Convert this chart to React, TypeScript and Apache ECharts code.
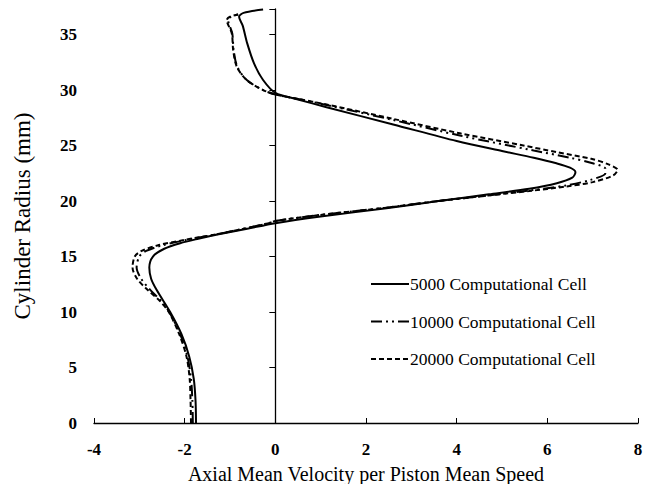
import React, { useEffect, useRef } from "react";
import * as echarts from "echarts";

// Axial velocity profiles: each point is [velocity ratio, radius (mm)]
const cells5000: [number, number][] = [
  [-1.75, 0], [-1.76, 2], [-1.8, 4], [-1.9, 6], [-2.07, 8], [-2.32, 10],
  [-2.62, 12], [-2.74, 13], [-2.78, 14], [-2.7, 15], [-2.45, 15.7], [-2.1, 16.2],
  [-1.7, 16.6], [-1.25, 17], [-0.62, 17.5], [0, 18], [1.0, 18.6], [2.45, 19.35],
  [3.6, 20], [4.71, 20.6], [5.6, 21.1], [6.21, 21.6], [6.55, 22.1], [6.62, 22.6],
  [6.5, 23.0], [6.2, 23.4], [5.7, 23.9], [5.0, 24.5], [4.0, 25.4], [2.6, 26.9],
  [1.13, 28.45], [0.5, 29.15], [0, 29.75], [-0.27, 30.9], [-0.47, 32.4],
  [-0.62, 34.2], [-0.72, 35.8], [-0.8, 36.6], [-0.7, 36.95], [-0.27, 37.25],
];

const cells10000: [number, number][] = [
  [-1.82, 0], [-1.83, 2], [-1.86, 4], [-1.94, 6], [-2.1, 8], [-2.34, 10],
  [-2.52, 11], [-2.76, 12], [-2.96, 13], [-3.06, 14], [-3.0, 15], [-2.85, 15.5],
  [-2.5, 16], [-1.95, 16.5], [-1.3, 17], [-0.7, 17.5], [-0.15, 18], [0, 18.2],
  [1.0, 18.75], [2.45, 19.4], [3.6, 20], [4.7, 20.5], [5.6, 20.95], [6.4, 21.4],
  [6.95, 21.9], [7.28, 22.5], [7.28, 22.9], [7.0, 23.4], [6.5, 23.9],
  [5.7, 24.55], [4.07, 25.9], [2.6, 27.3], [1.13, 28.65], [0.5, 29.2], [0, 29.6],
  [-0.27, 30.0], [-0.63, 30.9], [-0.84, 32.1], [-0.92, 33.6], [-0.95, 35.1],
  [-1.04, 36.3], [-0.98, 36.6], [-0.82, 36.8],
];

const cells20000: [number, number][] = [
  [-1.86, 0], [-1.87, 2], [-1.89, 4], [-1.96, 6], [-2.12, 8], [-2.35, 10],
  [-2.55, 11], [-2.82, 12], [-3.05, 13], [-3.15, 14], [-3.1, 15], [-2.95, 15.5],
  [-2.6, 16], [-2.0, 16.5], [-1.3, 17], [-0.7, 17.5], [-0.15, 18], [0, 18.2],
  [1.0, 18.75], [2.45, 19.4], [3.6, 20], [4.7, 20.5], [5.6, 20.9], [6.4, 21.3],
  [7.0, 21.7], [7.45, 22.3], [7.55, 22.8], [7.35, 23.3], [6.97, 23.8],
  [6.21, 24.4], [5.47, 25.0], [4.07, 26.1], [2.6, 27.4], [1.13, 28.7],
  [0.5, 29.2], [0, 29.6], [-0.27, 30.0], [-0.63, 30.9], [-0.85, 32.1],
  [-0.93, 33.6], [-0.96, 35.1], [-1.07, 36.3], [-1.0, 36.6], [-0.82, 36.8],
];

const seriesNames = [
  "5000 Computational Cell",
  "10000 Computational Cell",
  "20000 Computational Cell",
];

const xTitle = "Axial Mean Velocity per Piston Mean Speed";
const yTitle = "Cylinder Radius (mm)";

const FONT = "'Liberation Serif', 'Times New Roman', serif";

export default function App() {
  const ref = useRef<HTMLDivElement>(null);

  useEffect(() => {
    if (!ref.current) return;
    const chart = echarts.init(ref.current, undefined, { renderer: "svg" });

    const lineSeries = (
      name: string,
      data: [number, number][],
      type: any,
      width: number
    ) => ({
      name,
      type: "line",
      data,
      smooth: 0.3,
      showSymbol: false,
      symbol: "none",
      xAxisIndex: 0,
      yAxisIndex: 0,
      lineStyle: { color: "#000", width, type },
      itemStyle: { color: "#000" },
      emphasis: { disabled: true },
    });

    chart.setOption({
      animation: false,
      backgroundColor: "#fff",
      grid: { left: 94, right: 18, top: 9, bottom: 69, containLabel: false },
      legend: {
        orient: "vertical",
        left: 365,
        top: 270,
        itemWidth: 38,
        itemHeight: 14,
        itemGap: 19.5,
        itemStyle: { opacity: 0 },
        textStyle: {
          fontFamily: FONT,
          fontSize: 17.5,
          color: "#000",
          padding: [0, 0, 0, -4],
        },
        data: seriesNames,
      },
      xAxis: {
        type: "value",
        min: -4,
        max: 8,
        interval: 2,
        name: xTitle,
        nameLocation: "middle",
        nameGap: 41,
        nameTextStyle: { fontFamily: FONT, fontSize: 20, color: "#000" },
        axisLine: { onZero: false, lineStyle: { color: "#000", width: 1.3 } },
        axisTick: { inside: true, length: 5, lineStyle: { color: "#000" } },
        axisLabel: {
          fontFamily: FONT,
          fontSize: 17,
          fontWeight: "bold",
          color: "#000",
          margin: 18,
        },
        splitLine: { show: false },
      },
      yAxis: [
        {
          type: "value",
          min: 0,
          max: 37.3,
          interval: 5,
          position: "left",
          name: yTitle,
          nameLocation: "middle",
          nameGap: 60,
          nameTextStyle: { fontFamily: FONT, fontSize: 23, color: "#000" },
          axisLine: { show: false, onZero: false },
          axisTick: { show: false },
          axisLabel: {
            fontFamily: FONT,
            fontSize: 17,
            fontWeight: "bold",
            color: "#000",
            margin: 17,
            showMaxLabel: false,
          },
          splitLine: { show: false },
        },
        {
          type: "value",
          min: 0,
          max: 37.3,
          interval: 5,
          position: "left",
          axisLine: {
            show: true,
            onZero: true,
            onZeroAxisIndex: 0,
            lineStyle: { color: "#000", width: 1.3 },
          },
          axisTick: { show: true, length: 6, lineStyle: { color: "#000" } },
          axisLabel: { show: false },
          splitLine: { show: false },
        },
      ],
      series: [
        lineSeries(seriesNames[0], cells5000, "solid", 2),
        lineSeries(seriesNames[1], cells10000, [11, 4, 2, 4, 2, 4], 2),
        lineSeries(seriesNames[2], cells20000, [5, 3], 2),
      ],
    });

    return () => chart.dispose();
  }, []);

  return <div ref={ref} style={{ width: 656, height: 492, margin: -8 }} />;
}
